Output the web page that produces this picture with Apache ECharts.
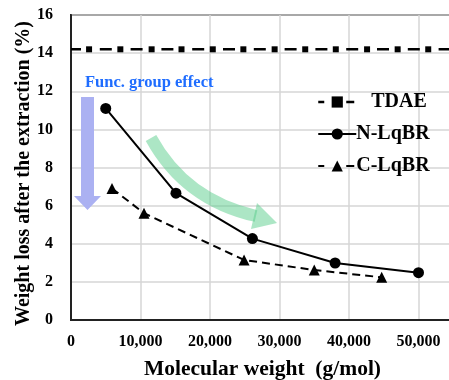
<!DOCTYPE html>
<html>
<head>
<meta charset="utf-8">
<script src="https://cdn.jsdelivr.net/npm/echarts@6/dist/echarts.min.js"></script>
<style>
  html, body { margin: 0; padding: 0; background: #fff; }
  #chart { width: 449px; height: 380px; }
</style>
</head>
<body>
<div id="chart"></div>
<script>
// values
const tdaeX = [2600, 7100, 11600, 15900, 20400, 24800, 29300, 33700, 38100, 42600, 47000, 51400]
const tdaeY = 14.2
const nLqbrX = [5000, 15100, 26100, 38000, 50000]
const nLqbrY = [11.1, 6.65, 4.27, 2.99, 2.48]
const cLqbrX = [5900, 10500, 24900, 35000, 44700]
const cLqbrY = [6.9, 5.6, 3.15, 2.62, 2.24]
const seriesNames = ['TDAE', 'N-LqBR', 'C-LqBR']
const yTicks = [0, 2, 4, 6, 8, 10, 12, 14, 16]
const xTicks = [0, 10000, 20000, 30000, 40000, 50000, 60000]

const font = '"Liberation Serif", "Times New Roman", serif'
const chart = echarts.init(document.getElementById('chart'))

// plot runs past the right edge of the window, like the cropped original
const tdaeData = [{ value: [0, tdaeY], symbol: 'none' }]
  .concat(tdaeX.map(x => [x, tdaeY]))
  .concat([{ value: [xTicks[xTicks.length - 1], tdaeY], symbol: 'none' }])

chart.setOption({
  animation: false,
  grid: {
    left: 71, top: 15, width: 417, height: 305,
    outerBoundsMode: 'none',
    show: true, borderColor: '#222', borderWidth: 2,
  },
  legend: {
    orient: 'vertical',
    left: 312,
    top: 87,
    itemWidth: 38,
    itemHeight: 14,
    itemGap: 12,
    textStyle: { fontFamily: font, fontSize: 20, fontWeight: 'bold', color: '#000', padding: [0, 0, 0, -5] },
    formatter: name => (name === 'TDAE' ? '   ' + name : name),
    data: [
      { name: seriesNames[0], lineStyle: { type: [8, 22], width: 2.5 } },
      { name: seriesNames[1] },
      { name: seriesNames[2], lineStyle: { type: [8, 22], width: 2 } },
    ],
  },
  xAxis: {
    type: 'value',
    min: xTicks[0],
    max: xTicks[xTicks.length - 1],
    interval: 10000,
    name: 'Molecular weight  (g/mol)',
    nameLocation: 'middle',
    nameMoveOverlap: false,
    nameGap: 38,
    nameTextStyle: { fontFamily: font, fontSize: 21.5, fontWeight: 'bold', color: '#000', padding: [0, 34, 0, 0] },
    axisLine: { lineStyle: { color: '#222', width: 2 } },
    axisTick: { show: false },
    axisLabel: {
      fontFamily: font, fontSize: 16, fontWeight: 'bold', color: '#000', margin: 14,
      formatter: v => v.toLocaleString('en-US'),
    },
    splitLine: { lineStyle: { color: '#d6d6d6', width: 1.5 } },
  },
  yAxis: {
    type: 'value',
    min: yTicks[0],
    max: yTicks[yTicks.length - 1],
    interval: 2,
    name: 'Weight loss after the extraction (%)',
    nameLocation: 'middle',
    nameMoveOverlap: false,
    nameGap: 37,
    nameTextStyle: { fontFamily: font, fontSize: 20, fontWeight: 'bold', color: '#000', padding: [0, 12, 0, 0] },
    axisLine: { show: true, lineStyle: { color: '#222', width: 2 } },
    axisTick: { show: false },
    axisLabel: { fontFamily: font, fontSize: 16, fontWeight: 'bold', color: '#000', margin: 18 },
    splitLine: { lineStyle: { color: '#d6d6d6', width: 1.5 } },
  },
  series: [
    {
      name: seriesNames[0],
      type: 'line',
      data: tdaeData,
      symbol: 'rect',
      symbolSize: 6,
      color: '#000',
      lineStyle: { color: '#000', width: 2.5, type: [12, 18.8], dashOffset: 2 },
      itemStyle: { color: '#000' },
      z: 3,
    },
    {
      name: seriesNames[1],
      type: 'line',
      data: nLqbrX.map((x, i) => [x, nLqbrY[i]]),
      symbol: 'circle',
      symbolSize: 11,
      color: '#000',
      lineStyle: { color: '#000', width: 2 },
      itemStyle: { color: '#000' },
      z: 3,
    },
    {
      name: seriesNames[2],
      type: 'line',
      data: cLqbrX.map((x, i) => [x, cLqbrY[i]]),
      symbol: 'triangle',
      symbolSize: 11,
      color: '#000',
      lineStyle: { color: '#000', width: 2, type: [8, 5] },
      itemStyle: { color: '#000' },
      z: 3,
    },
  ],
  graphic: [
    {
      type: 'text',
      left: 85,
      top: 74,
      style: { text: 'Func. group effect', fill: '#1f6dff', font: 'bold 16.5px ' + font },
      z: 10,
    },
    {
      type: 'polygon',
      shape: { points: [[81, 97], [94, 97], [94, 196], [101, 196], [87.5, 210], [74, 196], [81, 196]] },
      style: { fill: '#abb1f2' },
      z: 10,
    },
    {
      type: 'bezierCurve',
      shape: { x1: 151, y1: 138, cpx1: 185, cpy1: 200, x2: 256, y2: 216 },
      style: { stroke: 'rgba(90,205,140,0.5)', lineWidth: 12, fill: null },
      z: 10,
    },
    {
      type: 'polygon',
      shape: { points: [[257, 203], [277, 223], [251, 229]] },
      style: { fill: 'rgba(90,205,140,0.5)' },
      z: 10,
    },
  ],
})
</script>
</body>
</html>
